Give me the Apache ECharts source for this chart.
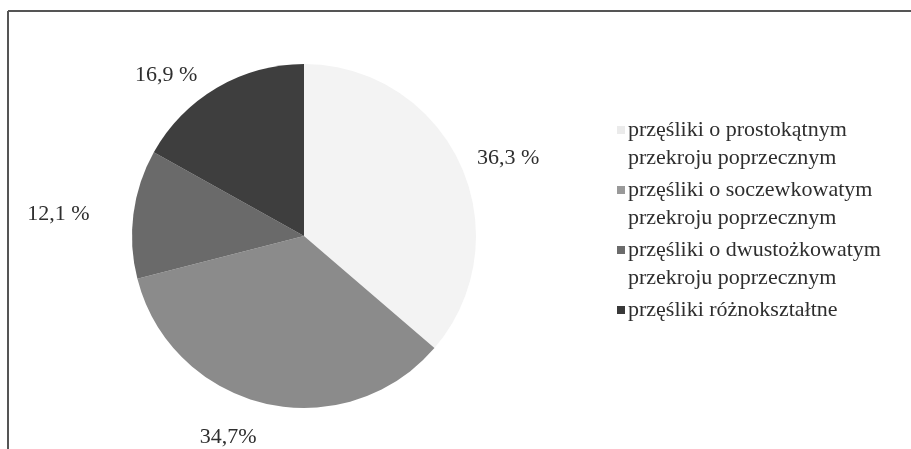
<!DOCTYPE html>
<html>
<head>
<meta charset="utf-8">
<script src="https://cdn.jsdelivr.net/npm/echarts@6/dist/echarts.min.js"></script>
<style>html,body{margin:0;padding:0;background:#fff;}#c{width:911px;height:449px;}</style>
</head>
<body>
<div id="c"></div>
<script>
const categories = [
  ['przęśliki o prostokątnym', 'przekroju poprzecznym'],
  ['przęśliki o soczewkowatym', 'przekroju poprzecznym'],
  ['przęśliki o dwustożkowatym', 'przekroju poprzecznym'],
  ['przęśliki różnokształtne']
];
const values = [36.3, 34.7, 12.1, 16.9];
const valueLabels = ['36,3 %', '34,7%', '12,1 %', '16,9 %'];
const sliceColors = ['#f3f3f3', '#8b8b8b', '#6a6a6a', '#3e3e3e'];
const markerColors = ['#ebebeb', '#999999', '#6b6b6b', '#383838'];
const labelShift = [[-2, 0], [0, 19], [-24, 2], [-7, 0]];

const FONT = 'Liberation Serif';
const names = categories.map(c => c.join(' '));
const rich = {
  t: { fontFamily: FONT, fontSize: 22, lineHeight: 28, color: '#2e2e2e', padding: [0, 0, 0, 3] },
  s: { width: 8, height: 10 }
};
markerColors.forEach((c, i) => { rich['m' + i] = { width: 8, height: 8, backgroundColor: c }; });

const chart = echarts.init(document.getElementById('c'));
chart.setOption({
  backgroundColor: '#ffffff',
  animation: false,
  graphic: [
    { type: 'line', shape: { x1: 8, y1: 11, x2: 911, y2: 11 }, style: { stroke: '#555', lineWidth: 2 } },
    { type: 'line', shape: { x1: 8, y1: 11, x2: 8, y2: 449 }, style: { stroke: '#555', lineWidth: 2 } }
  ],
  legend: {
    orient: 'vertical',
    left: 607,
    top: 111,
    padding: 5,
    icon: 'none',
    itemWidth: 0,
    itemHeight: 0,
    itemGap: 4,
    selectedMode: false,
    data: names,
    formatter: function (name) {
      const i = names.indexOf(name);
      const lines = categories[i];
      let s = '{m' + i + '|}{t|' + lines[0] + '}';
      for (let k = 1; k < lines.length; k++) s += '\n{s|}{t|' + lines[k] + '}';
      return s;
    },
    textStyle: { fontFamily: FONT, fontSize: 22, lineHeight: 28, color: '#2e2e2e', rich: rich }
  },
  series: [{
    type: 'pie',
    center: [304, 236],
    radius: [0, 172],
    startAngle: 90,
    clockwise: true,
    avoidLabelOverlap: false,
    data: values.map((v, i) => ({
      name: names[i],
      value: v,
      itemStyle: { color: sliceColors[i] }
    })),
    itemStyle: { borderWidth: 0 },
    label: {
      show: true,
      position: 'outside',
      formatter: p => valueLabels[p.dataIndex],
      fontFamily: FONT,
      fontSize: 22,
      color: '#2e2e2e'
    },
    labelLine: { show: false, length: 15, length2: 0 },
    labelLayout: p => ({ dx: labelShift[p.dataIndex][0], dy: labelShift[p.dataIndex][1] }),
    emphasis: { disabled: true }
  }]
});
</script>
</body>
</html>
